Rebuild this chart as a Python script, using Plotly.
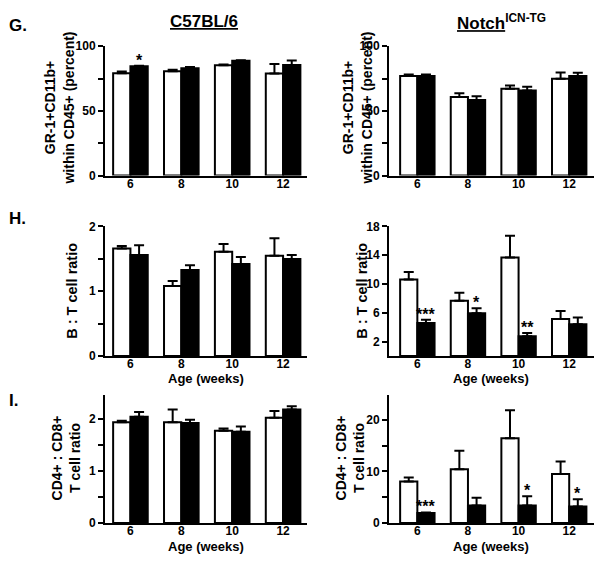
import plotly.graph_objects as go

# page body has an 8px default margin, so the figure is 16px smaller than the window
OFF = 8
W, H = 602 - 2 * OFF, 566 - 2 * OFF

ages = ['6', '8', '10', '12']

# G: GR-1+CD11b+ within CD45+ (percent)
g_b6_white = [79.1, 80.7, 85.2, 78.9]
g_b6_white_err = [1.3, 1.0, 0.7, 7.3]
g_b6_black = [84.4, 82.9, 88.7, 85.4]
g_b6_black_err = [0.5, 1.0, 0.5, 3.5]
g_tg_white = [76.9, 60.8, 67.1, 74.9]
g_tg_white_err = [1.2, 2.8, 2.5, 4.7]
g_tg_black = [76.9, 58.3, 65.8, 76.9]
g_tg_black_err = [1.2, 3.0, 2.8, 2.5]

# H: B : T cell ratio
h_b6_white = [1.66, 1.08, 1.61, 1.55]
h_b6_white_err = [0.04, 0.08, 0.12, 0.27]
h_b6_black = [1.56, 1.33, 1.42, 1.50]
h_b6_black_err = [0.15, 0.07, 0.11, 0.06]
h_tg_white = [10.65, 7.67, 13.7, 5.14]
h_tg_white_err = [1.03, 1.13, 3.0, 1.13]
h_tg_black = [4.6, 5.95, 2.75, 4.42]
h_tg_black_err = [0.45, 0.68, 0.45, 0.95]

# I: CD4+ : CD8+ T cell ratio
i_b6_white = [1.94, 1.94, 1.78, 2.03]
i_b6_white_err = [0.03, 0.25, 0.04, 0.13]
i_b6_black = [2.05, 1.93, 1.76, 2.19]
i_b6_black_err = [0.09, 0.06, 0.10, 0.06]
i_tg_white = [8.05, 10.4, 16.4, 9.5]
i_tg_white_err = [0.75, 3.6, 5.4, 2.4]
i_tg_black = [1.95, 3.4, 3.4, 3.2]
i_tg_black_err = [0.1, 1.5, 1.8, 1.4]

# significance marks on black bars: (panel axis index, group index, text)
stars = [
    (1, 0, '*'),
    (4, 0, '***'), (4, 1, '*'), (4, 2, '**'),
    (6, 0, '***'), (6, 2, '*'), (6, 3, '*'),
]

FONT = 'Liberation Sans, Arial, sans-serif'
xpos = list(range(len(ages)))

panels = [
    (g_b6_white, g_b6_white_err, g_b6_black, g_b6_black_err),
    (g_tg_white, g_tg_white_err, g_tg_black, g_tg_black_err),
    (h_b6_white, h_b6_white_err, h_b6_black, h_b6_black_err),
    (h_tg_white, h_tg_white_err, h_tg_black, h_tg_black_err),
    (i_b6_white, i_b6_white_err, i_b6_black, i_b6_black_err),
    (i_tg_white, i_tg_white_err, i_tg_black, i_tg_black_err),
]

fig = go.Figure()
for k, (wv, we, bv, be) in enumerate(panels):
    suf = '' if k == 0 else str(k + 1)
    for vals, errs, fill in ((wv, we, 'white'), (bv, be, 'black')):
        fig.add_trace(go.Bar(
            x=xpos, y=vals, xaxis='x' + suf, yaxis='y' + suf,
            marker=dict(color=fill, line=dict(color='black', width=2)),
            error_y=dict(type='data', symmetric=False, array=errs,
                         arrayminus=[0] * len(errs), color='black',
                         thickness=2, width=5),
            showlegend=False, hoverinfo='skip'))

def px_x(p):
    return (p - OFF) / W

def px_y(p):
    return 1 - (p - OFF) / H

col_dom = [(105, 307), (389, 594)]
col_rng = [[-0.5, 3.47], [-0.56, 3.49]]
row_dom = [(40, 172.7), (225, 358), (398.3, 529.3)]

yspecs = [
    dict(range=[0, 100], tickvals=[0, 25, 50, 75, 100], ticktext=['0', '', '50', '', '100']),
    dict(range=[0, 100], tickvals=[0, 25, 50, 75, 100], ticktext=['0', '', '50', '', '100']),
    dict(range=[0, 2], tickvals=[0, 0.5, 1, 1.5, 2], ticktext=['0', '', '1', '', '2']),
    dict(range=[0, 18], tickvals=[2, 6, 10, 14, 18], ticktext=['2', '6', '10', '14', '18']),
    dict(range=[0, 2.46], tickvals=[0, 0.5, 1, 1.5, 2], ticktext=['0', '', '1', '', '2']),
    dict(range=[0, 24.7], tickvals=[0, 5, 10, 15, 20], ticktext=['0', '', '10', '', '20']),
]

layout = dict(
    width=W, height=H, margin=dict(l=0, r=0, t=0, b=0),
    paper_bgcolor='white', plot_bgcolor='white',
    barmode='group', bargap=0.32, bargroupgap=0,
    font=dict(family=FONT, color='black', size=12, weight='bold'),
    showlegend=False,
)

for k in range(6):
    r, c = divmod(k, 2)
    suf = '' if k == 0 else str(k + 1)
    x0, x1 = col_dom[c]
    ytop, ybot = row_dom[r]
    layout['xaxis' + suf] = dict(
        domain=[px_x(x0), px_x(x1)], range=col_rng[c], anchor='y' + suf,
        tickvals=xpos, ticktext=ages, ticks='', showline=True, linewidth=2,
        linecolor='black', showgrid=False, zeroline=False, fixedrange=True,
        ticklabelstandoff=-4,
        tickfont=dict(family=FONT, size=12, color='black', weight='bold'))
    ys = yspecs[k]
    layout['yaxis' + suf] = dict(
        domain=[px_y(ybot), px_y(ytop)], anchor='x' + suf, range=ys['range'],
        tickmode='array', tickvals=ys['tickvals'], ticktext=ys['ticktext'],
        ticks='outside', ticklen=5, tickwidth=2, tickcolor='black',
        showline=True, linewidth=2, linecolor='black', showgrid=False,
        zeroline=False, fixedrange=True,
        tickfont=dict(family=FONT, size=12, color='black', weight='bold'))

ann = []

def text_ann(txt, x, y, size, angle=0, xanchor='center', yanchor='middle'):
    ann.append(dict(text=txt, x=px_x(x), y=px_y(y), xref='paper', yref='paper',
                    showarrow=False, textangle=angle, xanchor=xanchor, yanchor=yanchor,
                    font=dict(family=FONT, size=size, color='black', weight='bold')))

# column titles
text_ann('<u>C57BL/6</u>', 204, 15, 17)
text_ann('<u>Notch</u><sup>ICN-TG</sup>', 501, 15, 17)
# panel letters
text_ann('G.', 7, 19, 17, xanchor='left')
text_ann('H.', 7, 217, 17, xanchor='left')
text_ann('I.', 7, 404, 17, xanchor='left')
# y-axis titles
text_ann('GR-1+CD11b+<br>within CD45+ (percent)', 59, 104, 14, angle=-90)
text_ann('GR-1+CD11b+<br>within CD45+ (percent)', 357, 104, 14, angle=-90)
text_ann('B : T cell ratio', 72, 291, 14.5, angle=-90)
text_ann('B : T cell ratio', 362, 291, 14.5, angle=-90)
text_ann('CD4+ : CD8+<br>T cell ratio', 66, 463, 14, angle=-90)
text_ann('CD4+ : CD8+<br>T cell ratio', 350, 463, 14, angle=-90)
# x-axis titles
text_ann('Age (weeks)', 206, 381, 13)
text_ann('Age (weeks)', 491, 381, 13)
text_ann('Age (weeks)', 206, 553, 13)
text_ann('Age (weeks)', 491, 553, 13)

black_sets = {1: (g_b6_black, g_b6_black_err), 4: (h_tg_black, h_tg_black_err),
              6: (i_tg_black, i_tg_black_err)}
for ax, gi, s in stars:
    vals, errs = black_sets[ax]
    suf = '' if ax == 1 else str(ax)
    ann.append(dict(text=s, x=xpos[gi] + 0.17, y=vals[gi] + errs[gi],
                    xref='x' + suf, yref='y' + suf, showarrow=False,
                    xanchor='center', yanchor='bottom', yshift=-5,
                    font=dict(family=FONT, size=16, color='black', weight='bold')))

layout['annotations'] = ann
fig.update_layout(**layout)
fig.write_html('out.html')
